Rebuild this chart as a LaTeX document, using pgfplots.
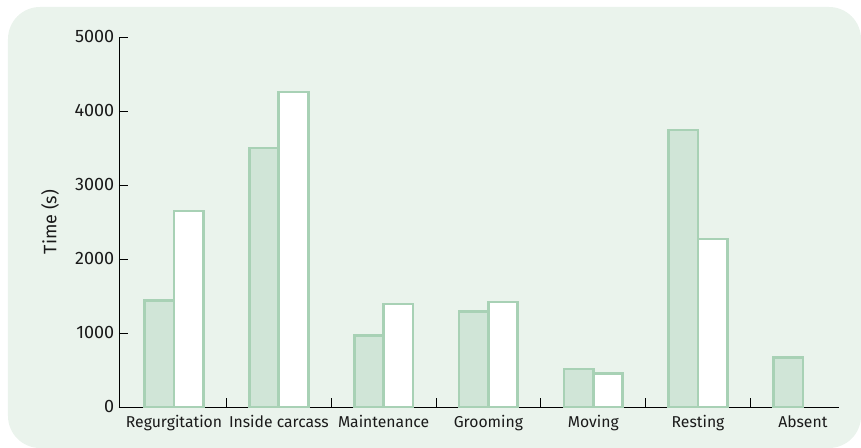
\documentclass[border=0pt]{standalone}
\usepackage{fontspec}
\setmainfont{Fira Sans}
\usepackage{pgfplots}
\pgfplotsset{compat=1.18}
\definecolor{bg}{HTML}{EAF3EC}
\definecolor{barfill}{HTML}{D0E5D7}
\definecolor{baredge}{HTML}{A8D1B5}
\definecolor{txt}{HTML}{1A1A1A}
\begin{document}
\begin{tikzpicture}
\useasboundingbox (-89.25pt,-30.75pt) rectangle (556.5pt,305.25pt);
\fill[bg, rounded corners=24pt] (-83.25pt,-30.75pt) rectangle (556.5pt,300pt);
\begin{axis}[
  at={(0,0)}, anchor=south west, scale only axis,
  width=540pt, height=277.5pt,
  xmin=-0.525, xmax=6.345, ymin=0, ymax=5000,
  axis lines=left,
  axis line style={-, black, line width=0.7pt},
  ytick={0,1000,...,5000},
  xtick={0.5,1.5,...,5.5}, xticklabels={},
  extra x ticks={0,...,6},
  extra x tick labels={Regurgitation,Inside carcass,Maintenance,Grooming,Moving,Resting,Absent},
  extra x tick style={major tick length=0pt, xticklabel style={yshift=-3pt}},
  tick align=inside, major tick length=6.75pt,
  tick style={black, line width=0.7pt},
  /pgf/number format/assume math mode=true,
  yticklabel style={/pgf/number format/1000 sep={}, font=\fontsize{13.5}{15}\selectfont, text=txt},
  xticklabel style={font=\fontsize{11.8}{13}\selectfont, text=txt},
  ylabel={Time (s)},
  every axis y label/.append style={at={(axis description cs:-0.0958,0.5)}, anchor=center},
  ylabel style={font=\fontsize{13.5}{15}\selectfont, text=txt},
  clip=false,
]
\addplot[ybar, bar width=0.28, bar shift=-0.14, fill=barfill, draw=baredge, line width=2pt]
  coordinates {(0,1440) (1,3500) (2,965) (3,1290) (4,515) (5,3745) (6,665)};
\addplot[ybar, bar width=0.28, bar shift=0.14, fill=white, draw=baredge, line width=2pt]
  coordinates {(0,2650) (1,4255) (2,1390) (3,1420) (4,455) (5,2270)};
\end{axis}
\end{tikzpicture}
\end{document}
